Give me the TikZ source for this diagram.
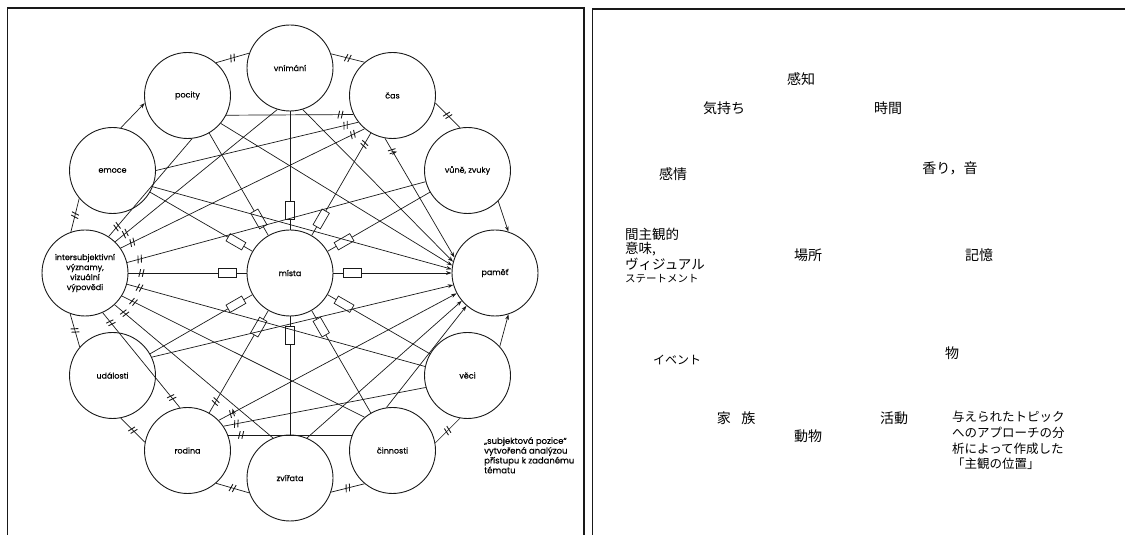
\documentclass[tikz,border=0pt]{standalone}
\usepackage{fontspec}
\setmainfont{Poppins}[FakeBold=0.5]
\newfontfamily\jp{Noto Sans CJK JP}
\usetikzlibrary{decorations.markings,arrows.meta}
\newcommand\dtick{\draw[line width=0.9pt,black!90] (-2.6pt,-3.8pt)--(-0.8pt,3.8pt) (0.8pt,-3.8pt)--(2.6pt,3.8pt);}
\newcommand\rbox{\draw[line width=0.7pt,black!90,fill=white] (-9pt,-4.2pt) rectangle (9pt,4.2pt);}
\tikzset{
  ln/.style={draw=black!90,line width=0.7pt},
  nd/.style={circle,draw=black!90,line width=0.9pt,minimum size=86pt,inner sep=0pt,align=center,font=\fontsize{8}{10}\selectfont},
  ar/.style={-{Stealth[length=5.5pt,width=3.8pt]}},
  tk/.style={postaction={decorate,decoration={markings,mark=at position #1 with {\dtick}}}},
  bx/.style={postaction={decorate,decoration={markings,mark=at position #1 with {\rbox}}}},
  jl/.style={font=\jp\fontsize{14}{16}\selectfont,inner sep=0pt},
  jm/.style={font=\jp\fontsize{13.5}{15}\selectfont,inner sep=0pt,anchor=west},
  jn/.style={font=\jp\fontsize{12.5}{15}\selectfont,inner sep=0pt,anchor=west},
}
\begin{document}
\begin{tikzpicture}[x=1pt,y=1pt]
\useasboundingbox (0,0) rectangle (1125,535);
\draw[line width=1.3pt,black!90] (7.5,0) -- (7.5,527) -- (584,527) -- (584,0);
\draw[line width=1.3pt,black!90] (592.5,0) -- (592.5,526) -- (1125,526);
% nodes
\node[nd] (X) at (290,262) {místa};
\node[nd] (V) at (290,467) {vnímání};
\node[nd] (C) at (392.5,439.5) {čas};
\node[nd] (Z) at (467.5,364.5) {vůně, zvuky};
\node[nd] (P) at (495,262) {paměť};
\node[nd] (E) at (467.5,159.5) {věci};
\node[nd] (N) at (392.5,84.5) {činnosti};
\node[nd] (W) at (290,57) {zvířata};
\node[nd] (R) at (187.5,84.5) {rodina};
\node[nd] (U) at (112.5,159.5) {události};
\node[nd] (I) at (85,262) {intersubjektivní\\významy,\\vizuální\\výpovědi};
\node[nd] (M) at (112.5,364.5) {emoce};
\node[nd] (O) at (187.5,439.5) {pocity};
\node[anchor=north west,align=left,inner sep=0pt,font=\fontsize{8.5}{9.8}\selectfont] (note) at (484,98) {„subjektová pozice“\\vytvořená analýzou\\přístupu k zadanému\\tématu};
% ring
\draw[ln,tk=0.5] (V.19.4) -- (C.130.6);
\draw[ln,tk=0.5] (C.-10.6) -- (Z.100.6);
\draw[ln,ar] (Z.-45) -- (P.72);
\draw[ln,ar] (E.42) -- (P.-72);
\draw[ln,tk=0.5] (E.-100.6) -- (N.10.6);
\draw[ln,tk=0.5] (N.-130.6) -- (W.-19.4);
\draw[ln,tk=0.5] (W.-160.6) -- (R.-49.4);
\draw[ln,tk=0.5] (R.169.4) -- (U.-79.4);
\draw[ln,tk=0.5] (U.139.4) -- (I.250.6);
\draw[ln,tk=0.5] (I.109.4) -- (M.220.6);
\draw[ln,ar] (M.79.4) -- (O.190.6);
\draw[ln,tk=0.5] (O.49.4) -- (V.160.6);
% spokes
\foreach \n in {V,Z,E,N,W,U,M,O} \draw[ln,bx=-19pt] (\n) -- (X);
\foreach \n in {C,R,I} \draw[ln,bx=-19pt,tk=13pt] (\n) -- (X);
\draw[ln,ar,bx=19pt] (X) -- (P);
% intersubjective chords
\draw[ln,tk=13pt] (I.57) -- (O.-84);
\draw[ln,tk=13pt] (I.46) -- (V.-107);
\draw[ln,tk=13pt,tk=-13pt] (I.35) -- (C.230);
\draw[ln,tk=13pt] (I.14) -- (Z.195);
\draw[ln,tk=13pt] (I.-15) -- (E.168);
\draw[ln,tk=13pt] (I.-32) -- (N.130);
\draw[ln,tk=13pt] (I.-47) -- (W.113);
\draw[ln,tk=13pt,tk=-13pt] (I.-66) -- (R.100);
% time chords
\draw[ln,tk=-13pt] (O.-27) -- (C.206);
\draw[ln,tk=-13pt] (M.0) -- (C.218);
\draw[ln,ar,tk=15pt] (C.-100) -- (P.159);
% family chords
\draw[ln,ar,tk=15pt] (R.44) -- (P.208);
\draw[ln,tk=13pt] (R.34) -- (E.196);
\draw[ln,tk=13pt] (R.21) -- (N.159);
% memory arrows
\draw[ln,ar] (V.-73) -- (P.165);
\draw[ln,ar] (O.-40) -- (P.170);
\draw[ln,ar] (M.-22) -- (P.175);
\draw[ln,ar] (U.25) -- (P.196);
\draw[ln,ar] (W.67) -- (P.220);
\draw[ln,ar] (N.98) -- (P.229);
% Japanese panel
\node[jl] (j1) at (801,456) {感知};
\node[jl] (j2) at (724,427) {気持ち};
\node[jl] (j3) at (888,427) {時間};
\node[jl] (j4) at (673,361) {感情};
\node[jl] (j5) at (950,367) {香り，音};
\node[jm] (j6) at (625,301) {間主観的};
\node[jm] (j7) at (625,286) {意味,};
\node[jm] (j8) at (625,271) {ヴィジュアル};
\node[jm,font=\jp\fontsize{10.5}{12}\selectfont] (j9) at (625,256) {ステートメント};
\node[jl] (j10) at (808,280) {場所};
\node[jl] (j11) at (979,280) {記憶};
\node[jl,font=\jp\fontsize{12}{14}\selectfont] (j12) at (677,175) {イベント};
\node[jl] (j13) at (952,182) {物};
\node[jl] (j14) at (736,117) {家\hspace{0.75em}族};
\node[jl] (j15) at (808,99) {動物};
\node[jl] (j16) at (894,117) {活動};
\node[jn] (k1) at (952,118) {与えられたトピック};
\node[jn] (k2) at (952,102) {へのアプローチの分};
\node[jn] (k3) at (952,86) {析によって作成した};
\node[jn] (k4) at (952,71) {「主観の位置」};
\end{tikzpicture}
\end{document}
